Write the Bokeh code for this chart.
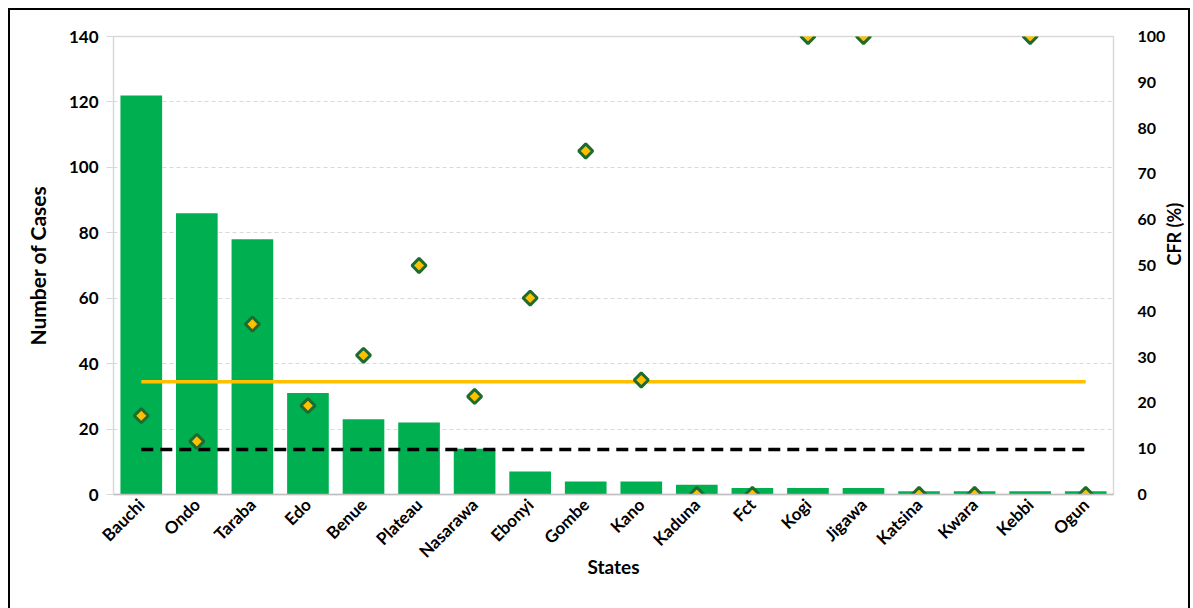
import math
from bokeh.plotting import figure
from bokeh.models import (Range1d, LinearAxis, FactorRange, Legend, LegendItem,
                          SingleIntervalTicker)
from bokeh.embed import file_html
from bokeh.resources import INLINE

states = ["Bauchi", "Ondo", "Taraba", "Edo", "Benue", "Plateau", "Nasarawa", "Ebonyi",
          "Gombe", "Kano", "Kaduna", "Fct", "Kogi", "Jigawa", "Katsina", "Kwara", "Kebbi", "Ogun"]
confirmed = [122, 86, 78, 31, 23, 22, 14, 7, 4, 4, 3, 2, 2, 2, 1, 1, 1, 1]
cfr = [17.2, 11.6, 37.2, 19.4, 30.4, 50.0, 21.4, 42.9, 75.0, 25.0, 0, 0, 100, 100, 0, 0, 100, 0]
national_cfr = 24.6
target_cfr = 9.8

FONT = "Lato"

p = figure(x_range=FactorRange(*states), y_range=Range1d(0, 140),
           frame_width=1000, frame_height=458, output_backend="svg", toolbar_location=None,
           min_border_left=113, min_border_right=78, min_border_top=36, min_border_bottom=90)
p.border_fill_color = None
p.background_fill_color = "white"
p.styles = {
    "background": ("linear-gradient(black, black) 8px 8px / 2px 600px no-repeat, "
                   "linear-gradient(black, black) 8px 8px / 1182px 2px no-repeat, "
                   "linear-gradient(black, black) 1188px 8px / 2px 600px no-repeat, white"),
}
p.extra_y_ranges = {"cfr": Range1d(0, 100)}

p.outline_line_color = "#d9d9d9"
p.outline_line_width = 1.5
p.xgrid.grid_line_color = None
p.ygrid.grid_line_color = "#d9d9d9"
p.ygrid.grid_line_dash = "4 3"

# left axis
ya = p.yaxis[0]
ya.ticker = SingleIntervalTicker(interval=20)
ya.axis_label = "Number of Cases"
ya.axis_label_text_font = FONT
ya.axis_label_text_font_style = "bold"
ya.axis_label_text_font_size = "21px"
ya.axis_label_text_color = "black"
ya.axis_label_standoff = 16
ya.major_label_text_font = FONT
ya.major_label_text_font_style = "bold"
ya.major_label_text_font_size = "17px"
ya.major_label_text_color = "black"
ya.axis_line_color = "#d9d9d9"
ya.major_tick_line_color = "#d9d9d9"
ya.major_tick_out = 7
ya.major_tick_in = 0
ya.minor_tick_line_color = None
ya.major_label_standoff = 8

# right axis
ra = LinearAxis(y_range_name="cfr", ticker=SingleIntervalTicker(interval=10))
ra.axis_label = "CFR (%)"
ra.axis_label_orientation = math.pi / 2
ra.axis_label_text_font = FONT
ra.axis_label_text_font_style = "bold"
ra.axis_label_text_font_size = "18px"
ra.axis_label_text_color = "black"
ra.axis_label_standoff = 6
ra.major_label_text_font = FONT
ra.major_label_text_font_style = "bold"
ra.major_label_text_font_size = "16px"
ra.major_label_text_color = "black"
ra.axis_line_color = None
ra.major_tick_line_color = None
ra.minor_tick_line_color = None
ra.major_label_standoff = 18
p.add_layout(ra, "right")

# x axis
xa = p.xaxis[0]
xa.axis_label = "States"
xa.axis_label_text_font = FONT
xa.axis_label_text_font_style = "bold"
xa.axis_label_text_font_size = "19px"
xa.axis_label_text_line_height = 0.9
xa.axis_label_text_color = "black"
xa.axis_label_standoff = -17
xa.major_label_orientation = math.pi / 4
xa.major_label_text_font = FONT
xa.major_label_text_font_style = "bold"
xa.major_label_text_font_size = "17px"
xa.major_label_text_color = "black"
xa.axis_line_color = "#bfbfbf"
xa.axis_line_width = 1.5
xa.major_tick_line_color = None
xa.major_label_standoff = 1

bars = p.vbar(x=states, top=confirmed, width=0.75, fill_color="#00b050", line_color=None)
nat = p.line(x=[states[0], states[-1]], y=[national_cfr, national_cfr], y_range_name="cfr",
             line_color="#ffc000", line_width=3.5)
tgt = p.line(x=[states[0], states[-1]], y=[target_cfr, target_cfr], y_range_name="cfr",
             line_color="black", line_width=3.5, line_dash="12 7")
pts = p.scatter(x=states, y=cfr, y_range_name="cfr", marker="square", angle=math.pi / 4,
                size=10, fill_color="#ffc000", line_color="#1d6b2e", line_width=3)

# legend-only swatch for the bars (a thick line draws a 46x14 block)
bar_swatch = p.line(x=[], y=[], line_color="#00b050", line_width=14)

legend = Legend(items=[LegendItem(label="Confirmed", renderers=[bar_swatch]),
                       LegendItem(label="CFR", renderers=[pts]),
                       LegendItem(label="National CFR", renderers=[nat]),
                       LegendItem(label="Target CFR", renderers=[tgt])],
                location=(145, 0), orientation="horizontal",
                glyph_width=46, glyph_height=19, label_standoff=6, spacing=70,
                padding=0, margin=0, border_line_color=None, background_fill_alpha=0,
                label_text_font=FONT, label_text_font_style="bold", label_text_font_size="18px",
                label_text_line_height=1.0, label_text_color="black")
p.add_layout(legend, "below")

open("out.html", "w").write(file_html(p, INLINE))
